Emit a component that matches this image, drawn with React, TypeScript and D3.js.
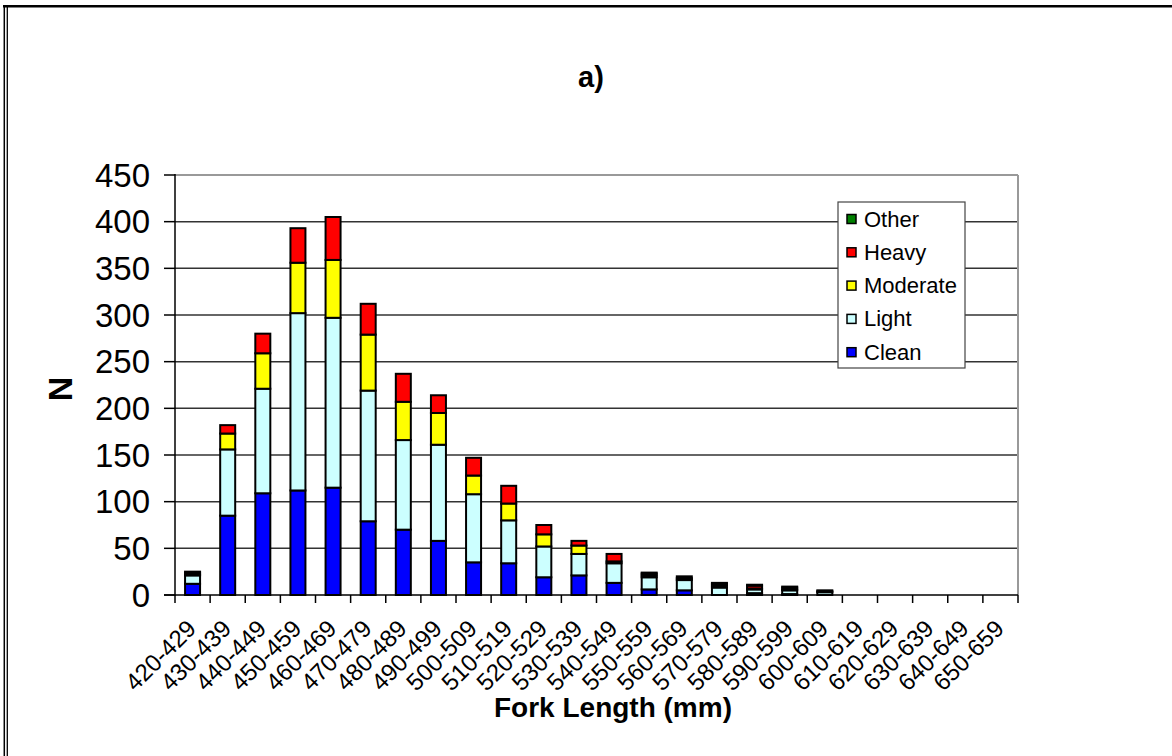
import React from "react";
import * as d3 from "d3";

const categories = [
  "420-429","430-439","440-449","450-459","460-469","470-479","480-489","490-499",
  "500-509","510-519","520-529","530-539","540-549","550-559","560-569","570-579",
  "580-589","590-599","600-609","610-619","620-629","630-639","640-649","650-659",
];
const clean =    [12, 85, 109, 112, 115, 79, 70, 58, 35, 34, 19, 21, 13, 6, 5, 0, 2, 1, 0, 0, 0, 0, 0, null];
const light =    [9, 71, 112, 190, 182, 140, 96, 103, 73, 46, 33, 23, 21, 13, 11, 8, 4, 4, 3, 0, 0, 0, 0, null];
const moderate = [1, 17, 38, 54, 62, 60, 41, 34, 20, 18, 13, 9, 2, 2, 2, 2, 1, 1, 1, 0, 0, 0, 0, null];
const heavy =    [2, 9, 21, 37, 46, 33, 30, 19, 19, 19, 10, 5, 8, 2, 2, 2, 3, 2, 1, 0, 0, 0, 0, null];
const other =    [1, 0, 0, 0, 0, 0, 0, 0, 0, 0, 0, 0, 0, 1, 0, 1, 1, 1, 0, 0, 0, 0, 0, null];
const yTicks = [0, 50, 100, 150, 200, 250, 300, 350, 400, 450];

const seriesKeys = ["Clean", "Light", "Moderate", "Heavy", "Other"];
const seriesColors: Record<string, string> = {
  Clean: "#0000FF",
  Light: "#CCFFFF",
  Moderate: "#FFFF00",
  Heavy: "#FF0000",
  Other: "#008000",
};
const legendOrder = ["Other", "Heavy", "Moderate", "Light", "Clean"];

const FONT = "'Liberation Sans', Arial, sans-serif";

export default function App() {
  const W = 1172, H = 756;
  const left = 175, right = 1018, top = 175, bottom = 595;

  const rows = categories.map((c, i) => ({
    cat: c,
    has: clean[i] !== null,
    Clean: clean[i] ?? 0,
    Light: light[i] ?? 0,
    Moderate: moderate[i] ?? 0,
    Heavy: heavy[i] ?? 0,
    Other: other[i] ?? 0,
  }));

  const pad = 1 - 15 / ((right - left) / categories.length);
  const x = d3.scaleBand<string>().domain(categories).range([left, right]).paddingInner(pad).paddingOuter(pad / 2);
  const y = d3.scaleLinear().domain([0, 450]).range([bottom, top]);
  const stacked = d3.stack<any>().keys(seriesKeys)(rows);
  const step = x.step();

  return (
    <svg width={W} height={H} style={{ position: "absolute", left: 0, top: 0, background: "#fff" }} fontFamily={FONT}>
      <rect x={0} y={0} width={W} height={H} fill="#fff" />
      {/* outer frame */}
      <line x1={3} x2={W} y1={6.2} y2={6.2} stroke="#000" strokeWidth={2.5} />
      <line x1={4.3} x2={4.3} y1={5} y2={H} stroke="#000" strokeWidth={1.5} />
      <line x1={7.3} x2={7.3} y1={7} y2={H} stroke="#000" strokeWidth={1.3} />

      {/* title */}
      <text x={591} y={87} textAnchor="middle" fontSize={29} fontWeight="bold">a)</text>

      {/* gridlines */}
      {yTicks.filter(t => t > 0 && t < 450).map(t => (
        <line key={t} x1={left} x2={right} y1={y(t)} y2={y(t)} stroke="#333" strokeWidth={1.5} />
      ))}
      {/* plot border top & right */}
      <line x1={left} x2={right} y1={y(450)} y2={y(450)} stroke="#999" strokeWidth={2} />
      <line x1={right} x2={right} y1={y(450)} y2={bottom} stroke="#999" strokeWidth={2} />

      {/* bars */}
      {stacked.map(s => (
        <g key={s.key}>
          {s.map((d, i) => rows[i].has ? (
            <rect key={i} x={x(categories[i])!} width={x.bandwidth()} y={y(d[1])} height={Math.max(0, y(d[0]) - y(d[1]))}
              fill={seriesColors[s.key]} stroke="#000" strokeWidth={2} />
          ) : null)}
        </g>
      ))}

      {/* axes */}
      <line x1={left} x2={left} y1={y(450) - 1} y2={bottom + 1} stroke="#000" strokeWidth={1.5} />
      <line x1={left - 11} x2={right} y1={bottom} y2={bottom} stroke="#000" strokeWidth={1.5} />
      {yTicks.map(t => (
        <g key={t}>
          <line x1={left - 11} x2={left} y1={y(t)} y2={y(t)} stroke="#000" strokeWidth={1.5} />
          <text x={150} y={y(t) + 11.5} textAnchor="end" fontSize={33}>{t}</text>
        </g>
      ))}
      {d3.range(categories.length + 1).map(i => (
        <line key={i} x1={left + i * step} x2={left + i * step} y1={bottom} y2={bottom + 8} stroke="#000" strokeWidth={1.5} />
      ))}
      {categories.map(c => {
        const cx = x(c)! + x.bandwidth() / 2 + 5;
        const ly = 630;
        return (
          <text key={c} x={cx} y={ly} textAnchor="end" fontSize={24} transform={`rotate(-45, ${cx}, ${ly})`}>{c}</text>
        );
      })}

      {/* axis titles */}
      <text x={613} y={717} textAnchor="middle" fontSize={28} fontWeight="bold">Fork Length (mm)</text>
      <text x={72} y={389} textAnchor="middle" fontSize={34} fontWeight="bold" transform="rotate(-90, 72, 389)">N</text>

      {/* legend */}
      <rect x={838} y={202} width={127} height={166} fill="#fff" stroke="#444" strokeWidth={1.2} />
      {legendOrder.map((k, i) => {
        const cy = 219 + i * 33.3;
        return (
          <g key={k}>
            <rect x={847} y={cy - 4.5} width={9} height={9} fill={seriesColors[k]} stroke="#000" strokeWidth={1.5} />
            <text x={864} y={cy + 7.5} fontSize={22}>{k}</text>
          </g>
        );
      })}
    </svg>
  );
}
